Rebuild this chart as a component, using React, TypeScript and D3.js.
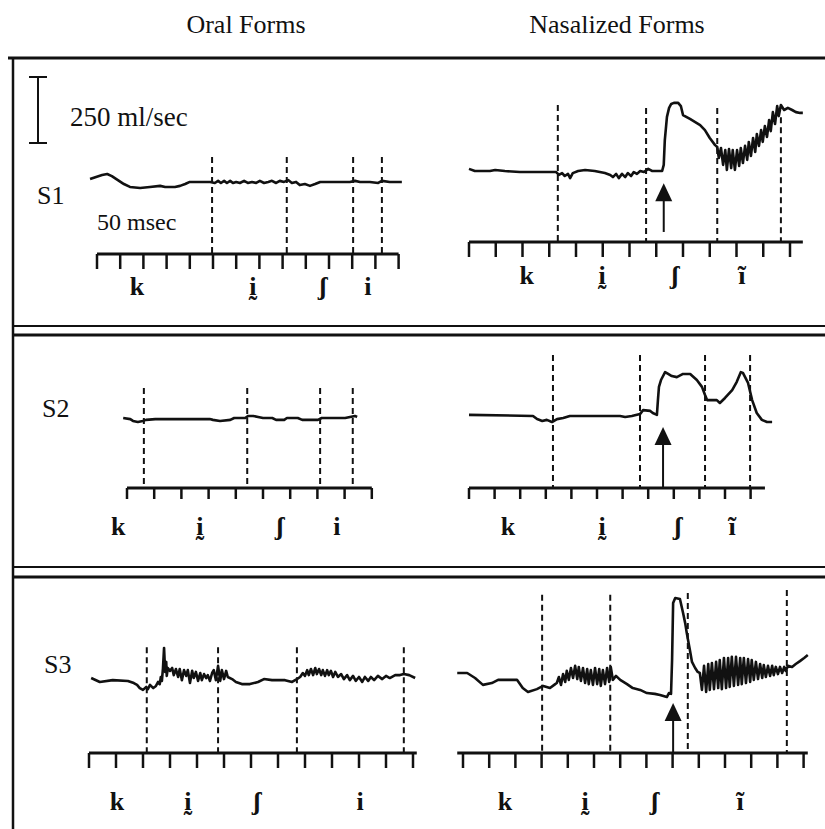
import React from "react";
import * as d3 from "d3";

// ---------------- DATA (time in ms, airflow in ml/sec) ----------------
const TICK_MS = 50;
const SCALE_BAR_ML = 250;

const rowLabels = ["S1", "S2", "S3"];
const columnTitles = ["Oral Forms", "Nasalized Forms"];

const oralSegments = ["k", "ḭ", "ʃ", "i"];
const nasalSegments = ["k", "ḭ", "ʃ", "ĩ"];

// S1 oral
const s1OralFlow: [number, number][] = [
  [-15, 284], [-2, 292], [11, 299], [22, 303], [32, 295], [45, 280], [58, 265], [71, 254], [93, 250], [114, 254],
  [136, 258], [147, 254], [168, 254], [179, 258], [190, 265], [200, 273], [222, 273], [244, 273], [254, 269], [261, 277],
  [267, 269], [274, 277], [280, 269], [287, 277], [293, 269], [300, 273], [308, 269], [317, 277], [325, 269], [334, 273],
  [343, 269], [351, 277], [360, 269], [369, 273], [377, 277], [386, 269], [394, 277], [403, 273], [412, 280], [420, 269],
  [429, 273], [437, 261], [448, 265], [459, 258], [470, 265], [481, 273], [502, 273], [545, 273], [556, 277], [567, 273],
  [588, 273], [606, 269], [614, 277], [631, 273], [657, 273],
];
const s1OralBounds = [248, 409, 552, 614];
const s1OralBoundTops = [367, 367, 367, 367];
const s1OralSegTimes = [86, 336, 487, 584];

// S1 nasalized
const s1NasalFlow: [number, number][] = [
  [0, 277], [11, 269], [39, 269], [49, 273], [67, 269], [95, 265], [163, 265], [168, 254], [174, 261], [179, 250],
  [185, 258], [189, 242], [194, 261], [204, 269], [217, 273], [235, 269], [254, 261], [264, 254], [269, 246], [275, 258],
  [280, 242], [286, 258], [292, 246], [297, 261], [303, 250], [308, 265], [314, 258], [320, 269], [327, 265], [335, 277],
  [342, 269], [350, 269], [361, 269], [364, 292], [366, 386], [370, 474], [374, 508], [378, 523], [383, 527], [391, 527],
  [396, 515], [400, 481], [413, 466], [432, 443], [441, 424], [450, 394], [460, 367], [464, 360], [467, 318], [471, 356],
  [475, 292], [479, 348], [482, 273], [486, 352], [490, 280], [493, 348], [497, 273], [501, 348], [505, 288], [508, 356],
  [512, 299], [516, 364], [520, 311], [523, 379], [527, 326], [531, 394], [535, 341], [538, 409], [542, 364], [546, 424],
  [549, 379], [553, 439], [557, 398], [561, 462], [564, 420], [568, 492], [572, 447], [576, 515], [579, 477], [583, 519],
  [589, 500], [596, 508], [604, 500], [611, 492], [619, 489], [624, 489],
];
const s1NasalBounds = [166, 331, 464, 583];
const s1NasalBoundTops = [519, 508, 508, 473];
const s1NasalSegTimes = [108, 249, 385, 510];
const s1NasalArrow = { t: 364, tip: 223, base: 38 };

// S2 oral
const s2OralFlow: [number, number][] = [
  [-7, 265], [6, 261], [11, 254], [20, 250], [29, 254], [35, 258], [52, 261], [88, 261], [134, 261], [152, 261],
  [158, 258], [171, 254], [190, 258], [197, 265], [217, 265], [223, 273], [232, 273], [241, 269], [250, 265], [267, 265],
  [274, 258], [289, 258], [294, 265], [314, 265], [322, 258], [351, 258], [358, 265], [401, 265], [410, 269], [419, 273],
  [423, 269],
];
const s2OralBounds = [31, 221, 355, 415];
const s2OralBoundTops = [379, 379, 379, 379];
const s2OralSegTimes = [-16, 134, 281, 386];

// S2 nasalized
const s2NasalFlow: [number, number][] = [
  [0, 277], [125, 273], [133, 261], [143, 254], [152, 258], [162, 250], [172, 261], [184, 265], [197, 273], [295, 273],
  [305, 269], [318, 273], [334, 280], [340, 295], [354, 292], [359, 284], [367, 277], [369, 333], [371, 383], [375, 409],
  [383, 439], [389, 432], [396, 424], [406, 420], [418, 432], [432, 432], [445, 409], [455, 383], [461, 352], [465, 333],
  [484, 333], [490, 322], [500, 341], [514, 371], [523, 402], [531, 439], [535, 436], [545, 398], [553, 333], [562, 284],
  [572, 258], [582, 250], [592, 250],
];
const s2NasalBounds = [164, 334, 461, 549];
const s2NasalBoundTops = [504, 504, 504, 504];
const s2NasalSegTimes = [76, 260, 408, 514];
const s2NasalArrow = { t: 379, tip: 231, base: 0 };

// S3 oral
const s3OralFlow: [number, number][] = [
  [4, 284], [20, 269], [44, 276], [72, 273], [83, 265], [89, 258], [94, 246], [100, 239], [106, 250], [109, 242],
  [113, 258], [119, 246], [124, 254], [128, 269], [131, 261], [133, 288], [135, 273], [137, 322], [139, 398], [141, 307],
  [143, 345], [144, 292], [146, 322], [150, 311], [154, 322], [157, 295], [161, 318], [165, 288], [168, 318], [172, 276],
  [176, 314], [180, 292], [183, 314], [187, 265], [191, 311], [194, 284], [198, 307], [202, 273], [206, 303], [209, 276],
  [213, 299], [217, 284], [220, 295], [224, 273], [228, 303], [231, 314], [235, 276], [239, 330], [243, 273], [246, 314],
  [250, 280], [254, 311], [257, 288], [265, 280], [272, 269], [283, 261], [298, 261], [313, 269], [324, 280], [339, 276],
  [363, 276], [376, 269], [385, 280], [391, 288], [396, 303], [400, 292], [404, 314], [407, 295], [411, 318], [415, 295],
  [419, 322], [422, 299], [426, 318], [430, 295], [433, 314], [437, 292], [441, 314], [444, 295], [448, 311], [452, 288],
  [456, 307], [461, 288], [467, 299], [472, 280], [478, 295], [483, 276], [489, 292], [494, 273], [500, 288], [506, 269],
  [511, 288], [517, 273], [522, 288], [528, 276], [535, 292], [543, 280], [550, 292], [557, 284], [567, 295], [576, 295],
  [583, 299], [593, 295], [604, 284],
];
const s3OralBounds = [107, 239, 385, 583];
const s3OralBoundTops = [401, 401, 401, 401];
const s3OralSegTimes = [52, 183, 311, 502];

// S3 nasalized
const s3NasalFlow: [number, number][] = [
  [-11, 303], [8, 303], [23, 284], [38, 258], [55, 265], [67, 277], [103, 277], [114, 246], [124, 231], [141, 242],
  [153, 254], [166, 246], [176, 261], [179, 265], [183, 288], [187, 258], [191, 299], [195, 269], [198, 311], [202, 277],
  [206, 322], [210, 284], [214, 330], [218, 280], [221, 326], [225, 273], [229, 322], [233, 265], [237, 318], [240, 261],
  [244, 314], [248, 258], [252, 322], [256, 261], [260, 318], [263, 254], [267, 314], [271, 261], [275, 322], [279, 269],
  [282, 326], [286, 277], [292, 292], [300, 277], [313, 261], [324, 246], [338, 239], [351, 227], [366, 224], [376, 220],
  [389, 212], [393, 227], [397, 224], [399, 352], [401, 568], [405, 587], [414, 583], [420, 530], [424, 492], [427, 455],
  [433, 390], [437, 345], [443, 322], [448, 307], [452, 303], [456, 239], [460, 330], [464, 231], [468, 337], [471, 239],
  [475, 341], [479, 242], [483, 345], [487, 246], [490, 352], [494, 242], [498, 360], [502, 246], [506, 360], [509, 250],
  [513, 364], [517, 254], [521, 364], [525, 258], [529, 360], [532, 261], [536, 360], [540, 265], [544, 356], [548, 269],
  [551, 352], [555, 277], [559, 345], [563, 280], [567, 337], [571, 284], [574, 333], [578, 288], [582, 330], [586, 292],
  [590, 330], [593, 295], [597, 326], [601, 299], [605, 326], [609, 303], [613, 326], [616, 311], [620, 330], [628, 326],
  [635, 337], [643, 348], [651, 360], [658, 371],
];
const s3NasalBounds = [151, 281, 429, 618];
const s3NasalBoundTops = [599, 599, 606, 617];
const s3NasalSegTimes = [80, 233, 366, 529];
const s3NasalArrow = { t: 401, tip: 189, base: 0 };

// ---------------- LAYOUT ----------------
const FONT = "'Liberation Serif', 'DejaVu Serif', serif";
const INK = "#111";
const ML_PX = 66; // pixels per 250 ml/sec

type Arrow = { t: number; tip: number; base: number };
type PanelSpec = {
  flow: [number, number][];
  bounds: number[];
  boundTops: number[];
  segs: string[];
  segTimes: number[];
  arrow?: Arrow;
  x0: number;
  pxPerTick: number;
  nTicks: number;
  axisY: number;
  domain: [number, number];
  tickLen: number;
  labelY: number;
};

const panels: PanelSpec[] = [
  { flow: s1OralFlow, bounds: s1OralBounds, boundTops: s1OralBoundTops, segs: oralSegments, segTimes: s1OralSegTimes,
    x0: 97, pxPerTick: 23.2, nTicks: 14, axisY: 254, domain: [0, 650], tickLen: 15, labelY: 295 },
  { flow: s1NasalFlow, bounds: s1NasalBounds, boundTops: s1NasalBoundTops, segs: nasalSegments, segTimes: s1NasalSegTimes,
    arrow: s1NasalArrow, x0: 469, pxPerTick: 26.75, nTicks: 13, axisY: 242, domain: [0, 624], tickLen: 15, labelY: 284 },
  { flow: s2OralFlow, bounds: s2OralBounds, boundTops: s2OralBoundTops, segs: oralSegments, segTimes: s2OralSegTimes,
    x0: 127, pxPerTick: 27.2, nTicks: 10, axisY: 488, domain: [0, 450], tickLen: 11, labelY: 535 },
  { flow: s2NasalFlow, bounds: s2NasalBounds, boundTops: s2NasalBoundTops, segs: nasalSegments, segTimes: s2NasalSegTimes,
    arrow: s2NasalArrow, x0: 469, pxPerTick: 25.6, nTicks: 12, axisY: 488, domain: [0, 578], tickLen: 11, labelY: 535 },
  { flow: s3OralFlow, bounds: s3OralBounds, boundTops: s3OralBoundTops, segs: oralSegments, segTimes: s3OralSegTimes,
    x0: 89, pxPerTick: 27, nTicks: 13, axisY: 753, domain: [0, 607], tickLen: 15, labelY: 810 },
  { flow: s3NasalFlow, bounds: s3NasalBounds, boundTops: s3NasalBoundTops, segs: nasalSegments, segTimes: s3NasalSegTimes,
    arrow: s3NasalArrow, x0: 463, pxPerTick: 26.2, nTicks: 14, axisY: 753, domain: [-11, 658], tickLen: 15, labelY: 810 },
];

function Panel({ p }: { p: PanelSpec }) {
  const x = d3.scaleLinear().domain([0, TICK_MS]).range([p.x0, p.x0 + p.pxPerTick]);
  const y = d3.scaleLinear().domain([0, SCALE_BAR_ML]).range([p.axisY, p.axisY - ML_PX]);
  const ticks = d3.range(p.nTicks).map((i) => i * TICK_MS);
  const line = d3.line<[number, number]>().x((d) => x(d[0])).y((d) => y(d[1]));
  return (
    <g>
      {p.bounds.map((t, i) => (
        <line key={"b" + i} x1={x(t)} x2={x(t)} y1={y(p.boundTops[i])} y2={p.axisY}
          stroke={INK} strokeWidth={2} strokeDasharray="6,4" />
      ))}
      <line x1={x(p.domain[0])} x2={x(p.domain[1])} y1={p.axisY} y2={p.axisY} stroke={INK} strokeWidth={3} />
      {ticks.map((t) => (
        <line key={"t" + t} x1={x(t)} x2={x(t)} y1={p.axisY} y2={p.axisY + p.tickLen} stroke={INK} strokeWidth={2.5} />
      ))}
      <path d={line(p.flow) || ""} fill="none" stroke={INK} strokeWidth={2.6} strokeLinejoin="round" />
      {p.arrow && (
        <g>
          <line x1={x(p.arrow.t)} x2={x(p.arrow.t)} y1={y(p.arrow.base)} y2={y(p.arrow.tip) + 14}
            stroke={INK} strokeWidth={2} />
          <polygon
            points={`${x(p.arrow.t)},${y(p.arrow.tip)} ${x(p.arrow.t) - 8.5},${y(p.arrow.tip) + 18} ${x(p.arrow.t) + 8.5},${y(p.arrow.tip) + 18}`}
            fill={INK} />
        </g>
      )}
      {p.segs.map((s, i) => (
        <text key={"s" + i} x={x(p.segTimes[i])} y={p.labelY} textAnchor="middle"
          fontFamily={FONT} fontSize={26} fontWeight="bold" fill={INK}>{s}</text>
      ))}
    </g>
  );
}

export default function App() {
  const bar = d3.scaleLinear().domain([0, SCALE_BAR_ML]).range([143, 143 - ML_PX]);
  return (
    <svg width={825} height={829} style={{ position: "absolute", left: 0, top: 0, background: "#fff" }}>
      <rect width={825} height={829} fill="#fff" />
      {/* column titles */}
      <text x={246} y={33} textAnchor="middle" fontFamily={FONT} fontSize={26} fill={INK}>{columnTitles[0]}</text>
      <text x={617} y={33} textAnchor="middle" fontFamily={FONT} fontSize={26} fill={INK}>{columnTitles[1]}</text>
      {/* frame */}
      <line x1={8} x2={825} y1={58} y2={58} stroke={INK} strokeWidth={3} />
      <line x1={13} x2={13} y1={57} y2={829} stroke={INK} strokeWidth={2.5} />
      <line x1={13} x2={825} y1={326} y2={326} stroke={INK} strokeWidth={2} />
      <line x1={13} x2={825} y1={335} y2={335} stroke={INK} strokeWidth={3} />
      <line x1={13} x2={825} y1={567} y2={567} stroke={INK} strokeWidth={2} />
      <line x1={13} x2={825} y1={577} y2={577} stroke={INK} strokeWidth={3} />
      {/* scale bar */}
      <line x1={38} x2={38} y1={bar(0)} y2={bar(SCALE_BAR_ML)} stroke={INK} strokeWidth={2} />
      <line x1={29} x2={47} y1={bar(0)} y2={bar(0)} stroke={INK} strokeWidth={2} />
      <line x1={29} x2={47} y1={bar(SCALE_BAR_ML)} y2={bar(SCALE_BAR_ML)} stroke={INK} strokeWidth={2} />
      <text x={70} y={126} fontFamily={FONT} fontSize={27} fill={INK}>{`${SCALE_BAR_ML} ml/sec`}</text>
      <text x={97} y={230} fontFamily={FONT} fontSize={24} fill={INK}>{`${TICK_MS} msec`}</text>
      {/* row labels */}
      <text x={37} y={204} fontFamily={FONT} fontSize={26} fill={INK}>{rowLabels[0]}</text>
      <text x={42} y={417} fontFamily={FONT} fontSize={26} fill={INK}>{rowLabels[1]}</text>
      <text x={44} y={673} fontFamily={FONT} fontSize={26} fill={INK}>{rowLabels[2]}</text>
      {panels.map((p, i) => (
        <Panel key={i} p={p} />
      ))}
    </svg>
  );
}
